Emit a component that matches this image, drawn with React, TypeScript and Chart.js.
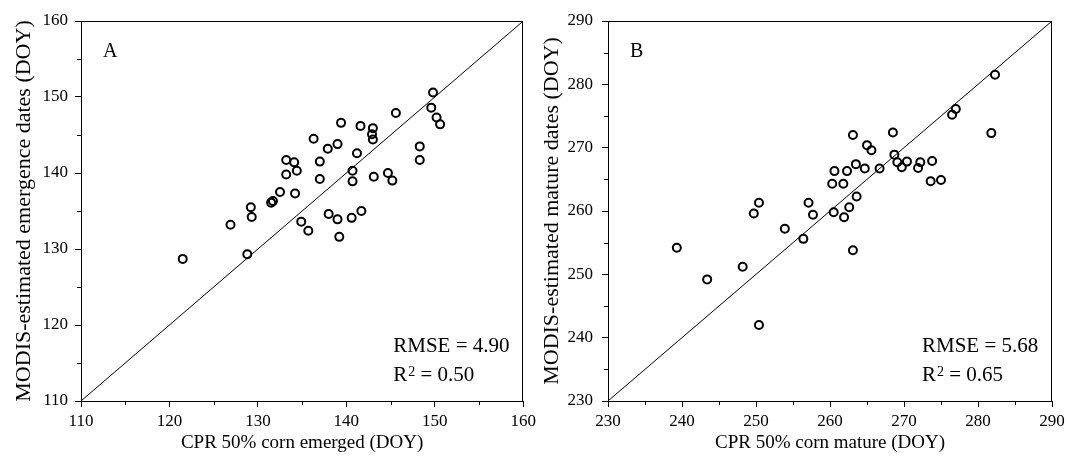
import React, { useEffect, useRef } from "react";
import { Chart, registerables } from "chart.js";

Chart.register(...registerables);

// ---------- Panel A data: emergence ----------
const emergedCPR = [
  121.5, 126.9, 128.8, 129.2, 129.3, 131.5, 131.7, 132.5, 134.2, 133.2, 134.1,
  133.2, 134.4, 136.3, 137.0, 137.0, 137.9, 139.0, 139.4, 141.2, 141.6, 143.0,
  142.9, 143.0, 140.7, 140.7, 143.1, 144.7, 145.2, 145.6, 148.3, 148.3, 149.8,
  149.6, 150.2, 150.6, 134.9, 135.7, 138.0, 139.0, 139.2, 140.6, 141.7,
];
const emergedMODIS = [
  128.7, 133.2, 129.3, 135.5, 134.2, 136.1, 136.3, 137.5, 137.3, 141.7, 141.4,
  139.8, 140.3, 144.5, 141.5, 139.2, 143.2, 143.8, 146.6, 142.6, 146.2, 145.9,
  145.1, 144.4, 140.3, 138.9, 139.5, 140.0, 139.0, 147.9, 143.5, 141.7, 150.6,
  148.6, 147.3, 146.4, 133.6, 132.4, 134.6, 133.9, 131.6, 134.1, 135.0,
];
const ticksA = [110, 120, 130, 140, 150, 160];
const minorTicksA = [115, 125, 135, 145, 155];
const oneToOneA = [110, 160];

// ---------- Panel B data: maturity ----------
const matureCPR = [
  239.3, 243.4, 248.2, 250.4, 249.7, 250.4, 253.9, 256.4, 257.1, 257.7, 260.5,
  261.9, 262.6, 263.1, 263.6, 260.3, 261.8, 260.6, 262.3, 263.5, 264.7, 266.7,
  263.1, 265.0, 265.6, 268.5, 268.7, 269.1, 269.7, 270.4, 271.9, 272.2, 273.8,
  273.6, 275.0, 276.5, 277.0, 282.3, 281.8,
];
const matureMODIS = [
  254.2, 249.2, 251.2, 242.0, 259.6, 261.3, 257.2, 255.6, 261.3, 259.4, 259.8,
  259.0, 260.6, 253.8, 262.3, 264.3, 264.3, 266.3, 266.3, 267.4, 266.7, 266.7,
  272.0, 270.4, 269.6, 272.4, 268.9, 267.7, 266.9, 267.8, 266.8, 267.7, 267.9,
  264.7, 264.9, 275.2, 276.1, 281.5, 272.3,
];
const ticksB = [230, 240, 250, 260, 270, 280, 290];
const minorTicksB = [235, 245, 255, 265, 275, 285];
const oneToOneB = [230, 290];

const FONT = "'Liberation Serif', 'Times New Roman', serif";

type PanelProps = {
  left: number;
  width: number;
  yAxisWidth: number;
  rightPad: number;
  yTickPad: number;
  yTitlePad: number;
  xVals: number[];
  yVals: number[];
  ticks: number[];
  minor: number[];
  diag: number[];
  xTitle: string;
  yTitle: string;
  letter: string;
  rmse: string;
  r2: string;
  statsX: number; // offset from chartArea.right
};

function Panel(p: PanelProps) {
  const ref = useRef<HTMLCanvasElement | null>(null);

  useEffect(() => {
    if (!ref.current) return;
    const min = p.ticks[0];
    const max = p.ticks[p.ticks.length - 1];
    const points = p.xVals.map((x, i) => ({ x, y: p.yVals[i] }));
    const diagPts = [
      { x: p.diag[0], y: p.diag[0] },
      { x: p.diag[1], y: p.diag[1] },
    ];

    const decor = {
      id: "decor",
      afterDraw(chart: any) {
        const { ctx, chartArea } = chart;
        const { left, right, top, bottom } = chartArea;
        const xs = chart.scales.x;
        const ys = chart.scales.y;
        ctx.save();
        ctx.strokeStyle = "#000";
        ctx.lineWidth = 1;
        ctx.beginPath();
        const t = Math.round(top) + 0.5;
        const r = Math.round(right) - 0.5;
        ctx.moveTo(Math.round(left), t);
        ctx.lineTo(r + 0.5, t);
        ctx.moveTo(r, t);
        ctx.lineTo(r, Math.round(bottom));
        // minor ticks
        p.minor.forEach((v) => {
          const px = Math.round(xs.getPixelForValue(v)) + 0.5;
          ctx.moveTo(px, Math.round(bottom));
          ctx.lineTo(px, Math.round(bottom) + 4);
          const py = Math.round(ys.getPixelForValue(v)) + 0.5;
          ctx.moveTo(Math.round(left) - 4, py);
          ctx.lineTo(Math.round(left), py);
        });
        ctx.stroke();

        ctx.fillStyle = "#000";
        ctx.textBaseline = "alphabetic";
        ctx.textAlign = "left";
        ctx.font = `20px ${FONT}`;
        ctx.fillText(p.letter, left + 22, top + 36);

        const sx = right - p.statsX;
        ctx.font = `21px ${FONT}`;
        ctx.fillText(p.rmse, sx, bottom - 49);
        const by = bottom - 20;
        ctx.fillText("R", sx, by);
        const rw = ctx.measureText("R").width;
        ctx.font = `14px ${FONT}`;
        ctx.fillText("2", sx + rw + 1, by - 5);
        const w2 = ctx.measureText("2").width;
        ctx.font = `21px ${FONT}`;
        ctx.fillText(" = " + p.r2, sx + rw + 1 + w2, by);
        ctx.restore();
      },
    };

    const chart = new Chart(ref.current, {
      type: "scatter",
      data: {
        datasets: [
          {
            data: diagPts,
            showLine: true,
            borderColor: "#000",
            borderWidth: 1,
            pointRadius: 0,
            fill: false,
          },
          {
            data: points,
            pointStyle: "circle",
            pointRadius: 4,
            pointBorderWidth: 2,
            pointBorderColor: "#000",
            pointBackgroundColor: "rgba(0,0,0,0)",
            borderColor: "#000",
            backgroundColor: "rgba(0,0,0,0)",
          },
        ],
      },
      options: {
        responsive: false,
        animation: false,
        layout: { padding: { left: 0, top: 21, right: p.rightPad, bottom: 0 } },
        plugins: {
          legend: { display: false },
          tooltip: { enabled: false },
        },
        scales: {
          x: {
            type: "linear",
            position: "bottom",
            min,
            max,
            afterBuildTicks: (s: any) => {
              s.ticks = p.ticks.map((v) => ({ value: v }));
            },
            afterFit: (s: any) => {
              s.height = 58;
            },
            ticks: {
              font: { family: FONT, size: 17 },
              color: "#000",
              padding: 4,
              maxRotation: 0,
              autoSkip: false,
            },
            grid: {
              drawOnChartArea: false,
              drawTicks: true,
              tickLength: 6,
              tickColor: "#000",
              tickWidth: 1,
            },
            border: { display: true, color: "#000", width: 1 },
            title: {
              display: true,
              text: p.xTitle,
              color: "#000",
              font: { family: FONT, size: 19 },
              padding: { top: 0, bottom: 5 },
            },
          },
          y: {
            type: "linear",
            position: "left",
            min,
            max,
            afterBuildTicks: (s: any) => {
              s.ticks = p.ticks.map((v) => ({ value: v }));
            },
            afterFit: (s: any) => {
              s.width = p.yAxisWidth;
            },
            ticks: {
              font: { family: FONT, size: 17 },
              color: "#000",
              padding: p.yTickPad,
              autoSkip: false,
            },
            grid: {
              drawOnChartArea: false,
              drawTicks: true,
              tickLength: 6,
              tickColor: "#000",
              tickWidth: 1,
            },
            border: { display: true, color: "#000", width: 1 },
            title: {
              display: true,
              text: p.yTitle,
              color: "#000",
              font: { family: FONT, size: 22 },
              padding: { top: p.yTitlePad, bottom: 0 },
            },
          },
        },
      },
      plugins: [decor],
    } as any);

    return () => chart.destroy();
  }, []);

  return (
    <canvas
      ref={ref}
      width={p.width}
      height={459}
      style={{
        position: "absolute",
        left: p.left,
        top: 0,
        width: p.width,
        height: 459,
      }}
    />
  );
}

export default function App() {
  return (
    <div
      style={{
        position: "absolute",
        left: 0,
        top: 0,
        width: 1069,
        height: 459,
        background: "#fff",
        overflow: "hidden",
      }}
    >
      <Panel
        left={0}
        width={540}
        yAxisWidth={81}
        rightPad={14}
        yTickPad={7}
        yTitlePad={11}
        xVals={emergedCPR}
        yVals={emergedMODIS}
        ticks={ticksA}
        minor={minorTicksA}
        diag={oneToOneA}
        xTitle="CPR 50% corn emerged (DOY)"
        yTitle="MODIS-estimated emergence dates (DOY)"
        letter="A"
        rmse="RMSE = 4.90"
        r2="0.50"
        statsX={130}
      />
      <Panel
        left={530}
        width={539}
        yAxisWidth={78}
        rightPad={17}
        yTickPad={9}
        yTitlePad={9}
        xVals={matureCPR}
        yVals={matureMODIS}
        ticks={ticksB}
        minor={minorTicksB}
        diag={oneToOneB}
        xTitle="CPR 50% corn mature (DOY)"
        yTitle="MODIS-estimated mature dates (DOY)"
        letter="B"
        rmse="RMSE = 5.68"
        r2="0.65"
        statsX={130}
      />
    </div>
  );
}
